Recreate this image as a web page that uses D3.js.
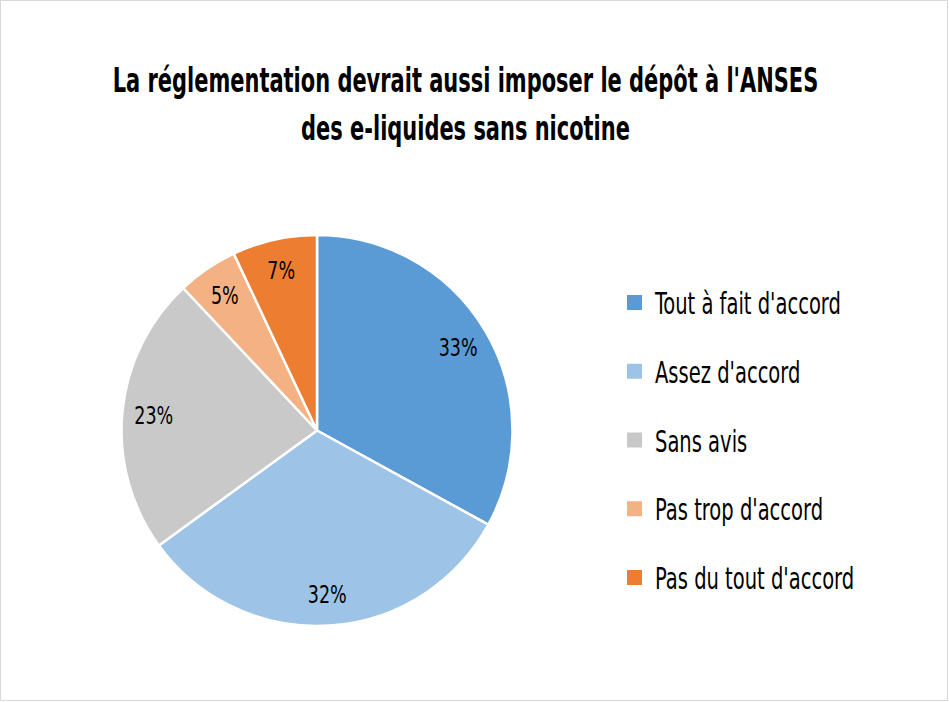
<!DOCTYPE html>
<html><head><meta charset="utf-8">
<script src="https://cdn.jsdelivr.net/npm/d3@7/dist/d3.min.js"></script>
<style>
body{margin:0;background:#fff;}
svg{display:block;font-family:"DejaVu Sans Condensed","DejaVu Sans",sans-serif;font-stretch:condensed;}
</style></head>
<body><svg id="c" width="949" height="702"></svg>
<script>
const categories = ["Tout à fait d'accord","Assez d'accord","Sans avis","Pas trop d'accord","Pas du tout d'accord"];
const values = [33, 32, 23, 5, 7];
const colors = ["#5B9BD5","#9DC3E6","#C9C9C9","#F4B183","#ED7D31"];
const titleLines = ["La réglementation devrait aussi imposer le dépôt à l'ANSES","des e-liquides sans nicotine"];

const svg = d3.select("#c");
svg.append("rect").attr("x",0.5).attr("y",0.5).attr("width",947).attr("height",700)
  .attr("fill","#fff").attr("stroke","#d9d9d9");

// horizontally compress a group of texts (placed at local 0,0) so a reference text reaches a target width
function condense(sel, refWidth, pos){
  const nodes = sel.nodes();
  const k = refWidth / nodes[0].getComputedTextLength();
  nodes.forEach((n,i)=>{
    const p = pos(n.__data__, i);
    n.setAttribute("transform", `translate(${p[0]},${p[1]}) scale(${k.toFixed(4)},1)`);
  });
}

const title = svg.append("g").selectAll("text").data(titleLines).join("text")
  .attr("text-anchor","middle")
  .attr("font-size",33).attr("font-weight","bold").attr("fill","#000").text(d=>d);
condense(title, 706, (d,i)=>[465.5, 92+i*48]);

const cx=317, cy=430.5, R=195.5;
const pie = d3.pie().sort(null).value(d=>d);
const arcs = pie(values);
const arc = d3.arc().innerRadius(0).outerRadius(R);
const labelArc = d3.arc().innerRadius(164).outerRadius(164);
const g = svg.append("g").attr("transform",`translate(${cx},${cy})`);
g.selectAll("path").data(arcs).join("path").attr("d",arc)
  .attr("fill",(d,i)=>colors[i]).attr("stroke","#fff").attr("stroke-width",2.5).attr("stroke-linejoin","round");
const labels = g.selectAll("text").data(arcs).join("text")
  .attr("text-anchor","middle").attr("font-size",24).attr("fill","#000")
  .text(d=>d.data+"%");
condense(labels, 39, d=>{const c=labelArc.centroid(d); return [c[0], c[1]+9];});

const leg = svg.append("g");
const ly = d3.scalePoint().domain(categories).range([314,589]);
leg.selectAll("rect").data(categories).join("rect")
  .attr("x",627).attr("y",d=>ly(d)-19).attr("width",15).attr("height",15)
  .attr("fill",(d,i)=>colors[i]);
const legText = leg.selectAll("text").data(categories).join("text")
  .attr("font-size",30).attr("fill","#000")
  .text(d=>d);
condense(legText, 186, d=>[655, ly(d)]);
</script></body></html>
